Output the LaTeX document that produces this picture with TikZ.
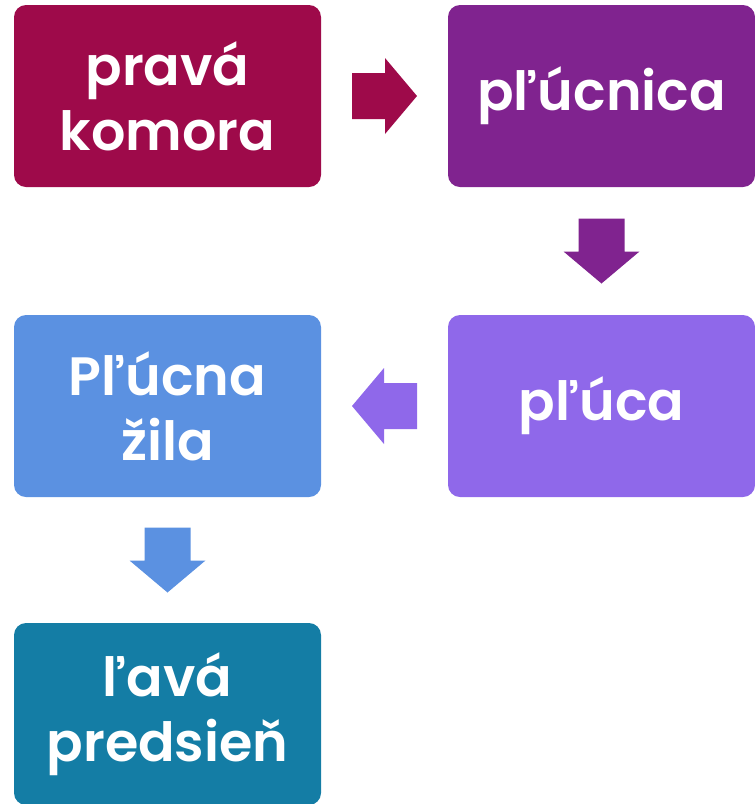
\documentclass[tikz,border=0pt]{standalone}
\usepackage{fontspec}
\newfontfamily\boxfont{Poppins}[UprightFont={* SemiBold}]
\usetikzlibrary{calc}

\definecolor{cKomora}{HTML}{9E0A4A}
\definecolor{cPlucnica}{HTML}{80238F}
\definecolor{cPluca}{HTML}{8F68EA}
\definecolor{cZila}{HTML}{5B91E1}
\definecolor{cPredsien}{HTML}{147DA5}

\tikzset{
	pics/blockarrow/.style={
		code={\fill[sharp corners] (-32.5,-23) -- (0.5,-23) -- (0.5,-38) -- (32.5,0)
			-- (0.5,38) -- (0.5,23) -- (-32.5,23) -- cycle;}
	}
}

\begin{document}
\begin{tikzpicture}[
	x=1pt, y=1pt,
	every node/.style={
		rounded corners=12pt,
		align=center,
		text=white,
		minimum width=307pt,
		minimum height=182pt,
		inner sep=0pt,
		font=\boxfont\fontsize{54}{65}\selectfont
	}
]
\useasboundingbox (0,0) rectangle (755,-804);

\node[fill=cKomora] (K) at (167.5,-96) {pravá\\komora};
\node[fill=cPlucnica] (P) at (601.5,-96) {pľúcnica};
\node[fill=cPluca] (L) at (601.5,-406) {pľúca};
\node[fill=cZila] (Z) at (167.5,-406) {Pľúcna\\žila};
\node[fill=cPredsien] (S) at (167.5,-714) {ľavá\\predsieň};

% arrows between boxes
\pic[fill=cKomora] at ($(K.east)!0.5!(P.west)$) {blockarrow};
\pic[fill=cPlucnica, rotate=-90] at ($(P.south)!0.5!(L.north)$) {blockarrow};
\pic[fill=cPluca, rotate=180] at ($(L.west)!0.5!(Z.east)$) {blockarrow};
\pic[fill=cZila, rotate=-90] at ($(Z.south)!0.5!(S.north)$) {blockarrow};
\end{tikzpicture}
\end{document}
